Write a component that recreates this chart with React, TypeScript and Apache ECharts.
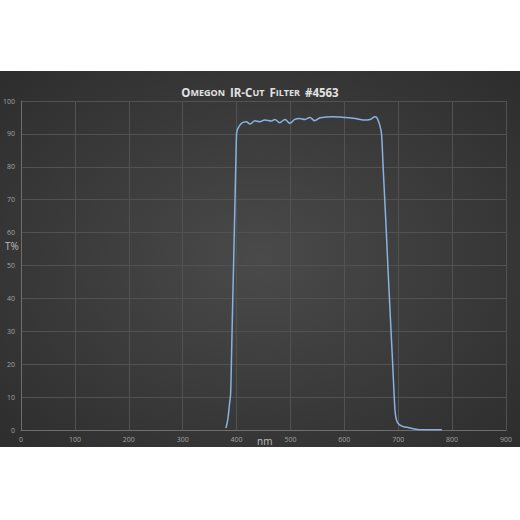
import React, { useEffect, useRef } from 'react';
import * as echarts from 'echarts';

// wavelength (nm) and transmission (%)
const wavelengths = [
  380, 381, 384, 387, 389, 391, 393, 395, 397, 399, 400, 401, 403, 409, 418, 425,
  434, 443, 452, 465, 471, 480, 490, 499, 508, 517, 527, 536, 545, 555, 567, 579,
  592, 604, 613, 623, 635, 648, 657, 660, 663, 666, 669, 672, 675, 678, 681, 684,
  687, 690, 692, 694, 696, 698, 700, 705, 710, 720, 730, 740, 760, 781,
];
const transmission = [
  0.6, 1.0, 3.5, 8, 11, 25, 40, 54, 69, 84, 90, 91, 91.8, 93.2, 93.7, 93,
  94, 93.7, 94.2, 93.9, 94.4, 93.4, 94.4, 93.2, 94.4, 94.7, 94.4, 95, 94, 94.9, 95.1, 95.2,
  95.1, 95, 94.8, 94.6, 94.2, 94.4, 95.2, 95, 94, 92.5, 90, 80, 70, 60, 49, 39,
  29, 19, 12, 6, 3.5, 2.5, 2, 1.3, 1, 0.7, 0.3, 0.1, 0.1, 0.1,
];

const xTicks = { min: 0, max: 900, step: 100 };
const yTicks = { min: 0, max: 100, step: 10 };

const App: React.FC = () => {
  const chartRef = useRef<HTMLDivElement>(null);

  useEffect(() => {
    if (!chartRef.current) return;
    const chart = echarts.init(chartRef.current, null, { renderer: 'svg' });

    const labelStyle = { color: '#a3a3a3', fontSize: 7, fontFamily: 'Open Sans' };
    const nameStyle = { fill: '#bdbdbd', fontSize: 10, fontFamily: 'Open Sans' };

    chart.setOption({
      animation: false,
      backgroundColor: '#ffffff',
      title: {
        text: '{b|O}{s|MEGON} {b|IR-C}{s|UT} {b|F}{s|ILTER} {b|#4563}',
        left: 'center',
        top: 78,
        textStyle: {
          rich: {
            b: { fontSize: 11.5, fontWeight: 'bold', color: '#e2e2e2', fontFamily: 'Open Sans' },
            s: { fontSize: 9, fontWeight: 'bold', color: '#e2e2e2', fontFamily: 'Open Sans' },
          },
        },
      },
      graphic: [
        {
          type: 'rect',
          z: -10,
          silent: true,
          shape: { x: 0, y: 71, width: 520, height: 376 },
          style: {
            fill: new echarts.graphic.RadialGradient(0.5, 0.5, 0.75, [
              { offset: 0, color: '#4a4a4a' },
              { offset: 1, color: '#2b2b2b' },
            ]),
          },
        },
        { type: 'text', left: 5, top: 241, style: { text: 'T%', ...nameStyle } },
        { type: 'text', left: 257, top: 436, style: { text: 'nm', ...nameStyle } },
      ],
      grid: { left: 21, right: 14, top: 101, bottom: 90 },
      xAxis: {
        type: 'value',
        min: xTicks.min,
        max: xTicks.max,
        interval: xTicks.step,
        axisLine: { lineStyle: { color: '#6e6e6e', width: 1 } },
        axisTick: { show: false },
        axisLabel: { ...labelStyle, margin: 6 },
        splitLine: { lineStyle: { color: '#525252', width: 1 } },
      },
      yAxis: {
        type: 'value',
        min: yTicks.min,
        max: yTicks.max,
        interval: yTicks.step,
        axisLine: { show: true, lineStyle: { color: '#6e6e6e', width: 1 } },
        axisTick: { show: false },
        axisLabel: { ...labelStyle, margin: 6 },
        splitLine: { lineStyle: { color: '#525252', width: 1 } },
      },
      series: [
        {
          type: 'line',
          data: wavelengths.map((w, i) => [w, transmission[i]]),
          showSymbol: false,
          smooth: 0.3,
          lineStyle: { color: '#8ab2e0', width: 1.5 },
        },
      ],
    });

    return () => chart.dispose();
  }, []);

  return (
    <div
      ref={chartRef}
      style={{ position: 'absolute', left: 0, top: 0, width: 520, height: 520 }}
    />
  );
};

export default App;
